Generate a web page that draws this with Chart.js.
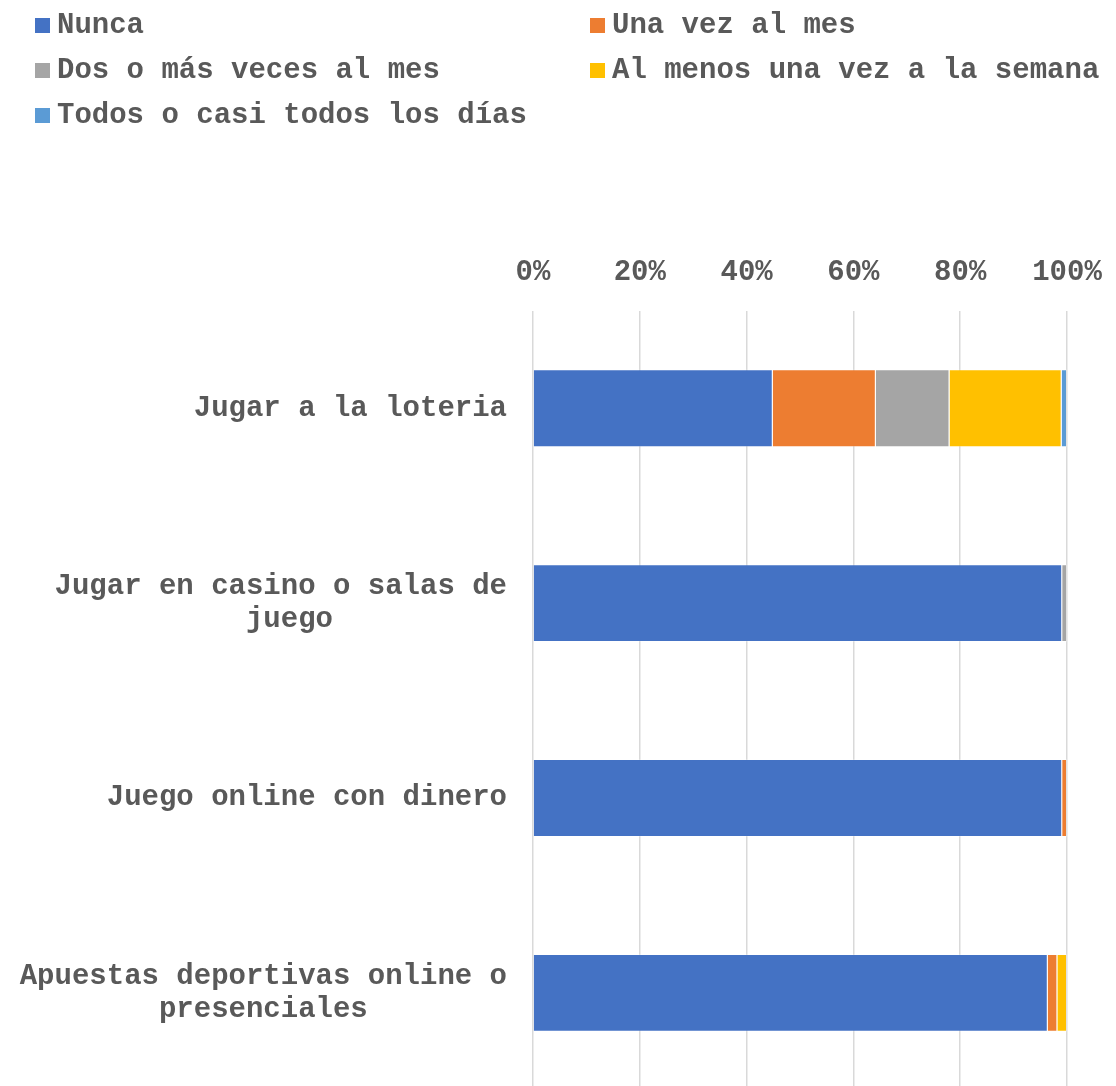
<!DOCTYPE html>
<html lang="es">
<head>
    <meta charset="UTF-8">
    <script src="https://cdn.jsdelivr.net/npm/chart.js"></script>
    <title>Frecuencia de juego</title>
    <style>
        body { margin: 0; background: #fff; overflow: hidden; }
        #wrap { position: relative; width: 1116px; height: 1086px; overflow: hidden; }
        #chartBox { position: absolute; left: 0; top: 0; width: 1116px; height: 1133px; }
        #legend {
            position: absolute; left: 35px; top: 3px;
            display: grid; grid-template-columns: 555px auto; row-gap: 0;
            font: bold 29px 'Courier New', 'Liberation Mono', monospace; color: #595959;
        }
        #legend .item { display: flex; align-items: center; height: 45px; white-space: nowrap; }
        #legend .box { width: 15px; height: 15px; margin-right: 7px; }
    </style>
</head>
<body>
<div id="wrap">
    <div id="chartBox"><canvas id="chart"></canvas></div>
    <div id="legend"></div>
</div>

<script>
    // datos (porcentajes)
    const categorias = [
        'Jugar a la loteria',
        ['Jugar en casino o salas de', 'juego'],
        'Juego online con dinero',
        ['Apuestas deportivas online o', 'presenciales']
    ];
    const series = ['Nunca', 'Una vez al mes', 'Dos o más veces al mes', 'Al menos una vez a la semana', 'Todos o casi todos los días'];
    const nunca   = [44.9, 99.1, 99.1, 96.4];
    const unaVez  = [19.3, 0, 0.9, 1.8];
    const dosMas  = [13.8, 0.9, 0, 0];
    const alMenos = [21.0, 0, 0, 1.8];
    const todos   = [1.0, 0, 0, 0];
    const ticksX  = [0, 20, 40, 60, 80, 100];

    const colores = ['#4472C4', '#ED7D31', '#A5A5A5', '#FFC000', '#5B9BD5'];
    const valores = [nunca, unaVez, dosMas, alMenos, todos];
    const fuente = "'Courier New', 'Liberation Mono', monospace";

    const datasets = series.map((nombre, i) => ({
        label: nombre,
        data: valores[i],
        backgroundColor: colores[i],
        borderColor: 'rgba(255,255,255,0.25)',
        borderWidth: 1,
        barPercentage: 0.5,
        categoryPercentage: 0.8
    }));

    // centra las líneas cortas bajo la larga (fuente monoespaciada)
    function centrarLineas(label) {
        if (!Array.isArray(label)) return label;
        const max = Math.max(...label.map(l => l.length));
        return label.map(l => l + ' '.repeat(Math.floor((max - l.length) / 2)));
    }

    const chart = new Chart(document.getElementById('chart'), {
        type: 'bar',
        data: { labels: categorias, datasets: datasets },
        options: {
            indexAxis: 'y',
            responsive: true,
            maintainAspectRatio: false,
            animation: false,
            layout: { padding: { top: 234, right: 49, bottom: 0, left: 0 } },
            plugins: { legend: { display: false }, tooltip: { enabled: false } },
            scales: {
                x: {
                    stacked: true,
                    position: 'top',
                    min: 0,
                    max: 100,
                    afterBuildTicks: s => { s.ticks = ticksX.map(v => ({ value: v })); },
                    afterFit: s => { s.paddingLeft = 0; s.paddingRight = 0; },
                    grid: { color: '#D9D9D9', lineWidth: 1.5, drawTicks: false },
                    border: { display: false },
                    ticks: {
                        padding: 21,
                        color: '#595959',
                        font: { family: fuente, size: 29, weight: 'bold' },
                        callback: v => v + '%'
                    }
                },
                y: {
                    stacked: true,
                    afterFit: s => { s.width = 533; },
                    grid: { display: false, drawTicks: false },
                    border: { display: false },
                    ticks: {
                        padding: 26,
                        color: '#595959',
                        font: { family: fuente, size: 29, weight: 'bold', lineHeight: 1.15 },
                        callback: function (v, i) { return centrarLineas(categorias[i]); }
                    }
                }
            }
        }
    });

    // leyenda en dos columnas, como en el original
    const leyenda = document.getElementById('legend');
    chart.data.datasets.forEach(ds => {
        const item = document.createElement('div');
        item.className = 'item';
        item.innerHTML = '<span class="box" style="background:' + ds.backgroundColor + '"></span>' + ds.label;
        leyenda.appendChild(item);
    });
</script>
</body>
</html>
